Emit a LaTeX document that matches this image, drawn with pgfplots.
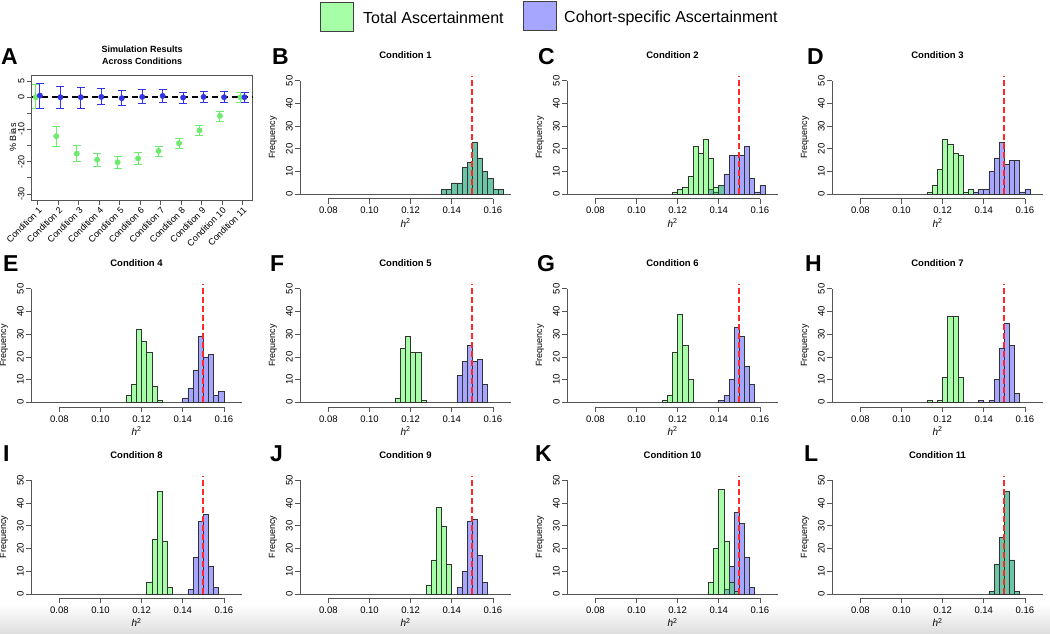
\documentclass[border=0pt]{standalone}
\usepackage{fontspec}
\setmainfont{Liberation Sans}
\usepackage{pgfplots}
\pgfplotsset{compat=1.18}

\definecolor{axgray}{RGB}{85,85,85}
\definecolor{ptgreen}{RGB}{110,235,110}
\definecolor{ptblue}{RGB}{50,50,230}
\definecolor{redline}{RGB}{255,40,40}

\pgfplotsset{
  histax/.style={
    scale only axis, width=211pt, height=122.6pt, anchor=south west,
    xmin=0.0662, xmax=0.1688, ymin=-2, ymax=52, clip=false,
    axis line style={draw=none},
    tick pos=left, tick align=outside, major tick length=5pt,
    tick style={axgray, line width=0.7pt},
    xtick={0.08,0.10,0.12,0.14,0.16},
    xticklabels={0.08,0.10,0.12,0.14,0.16},
    ytick={0,10,20,30,40,50},
    yticklabel style={rotate=90, anchor=south, inner sep=2pt},
    tick label style={font=\fontsize{9.5}{10}\selectfont},
    /pgf/number format/assume math mode=true,
    title style={at={(axis description cs:0.5,1.122)}, anchor=center,
      font=\bfseries\fontsize{9.5}{11}\selectfont},
    xlabel={\textit{h}\textsuperscript{2}},
    xlabel style={at={(axis description cs:0.5,-0.196)}, anchor=center,
      font=\fontsize{10}{11}\selectfont},
    ylabel={Frequency},
    ylabel style={at={(axis description cs:-0.128,0.5)}, anchor=center,
      font=\fontsize{9}{10}\selectfont},
  },
  cohort/.style={ybar interval, bar interval shift=0.5, bar interval width=1,
    fill=blue, fill opacity=0.35, draw=black!80, line width=0.6pt},
  total/.style={ybar interval, bar interval shift=0.5, bar interval width=1,
    fill=green, fill opacity=0.35, draw=black!80, line width=0.6pt},
}

% #1 left, #2 bottom (pt), #3 title, #4 total, #5 cohort-specific
\newcommand{\histpanel}[5]{%
\begin{axis}[histax, at={(#1pt,#2pt)}, title={#3}]
\draw[axgray, line width=0.7pt] (axis cs:0.0662,0) -- (axis cs:0.1688,0);
\addplot[cohort] coordinates {#5};
\addplot[total] coordinates {#4};
\draw[axgray, line width=0.7pt] (axis cs:0.08,-2) -- (axis cs:0.16,-2);
\draw[axgray, line width=0.7pt] (axis cs:0.0662,0) -- (axis cs:0.0662,50);
\draw[redline, line width=1.8pt, dash pattern=on 6pt off 3pt] (axis cs:0.15,0) -- (axis cs:0.15,52);
\end{axis}}

\begin{document}
\begin{tikzpicture}
\useasboundingbox (0pt,0pt) rectangle (1050pt,634pt);
\shade[top color=white, bottom color=black!13] (0pt,0pt) rectangle (1050pt,30pt);

% legend
\filldraw[fill=green, fill opacity=0.35, draw=black!75, line width=1pt] (320pt,602pt) rectangle (353pt,631pt);
\node[anchor=west, inner sep=0pt, font=\fontsize{16}{18}\selectfont] at (363pt,616pt) {Total Ascertainment};
\filldraw[fill=blue, fill opacity=0.35, draw=black!75, line width=1pt] (523pt,603pt) rectangle (556pt,632pt);
\node[anchor=west, inner sep=0pt, font=\fontsize{16}{18}\selectfont] at (564pt,616pt) {Cohort-specific Ascertainment};

% panel A
\begin{axis}[
  scale only axis, width=221pt, height=125pt, anchor=south west, at={(31.7pt,434pt)},
  xmin=0.7, xmax=11.5, ymin=-31.9, ymax=6.9, clip=false,
  axis line style={axgray, line width=0.7pt},
  tick pos=left, tick align=outside, major tick length=5pt,
  tick style={axgray, line width=0.7pt},
  xtick={1,2,3,4,5,6,7,8,9,10,11},
  xticklabels={Condition 1,Condition 2,Condition 3,Condition 4,Condition 5,Condition 6,Condition 7,Condition 8,Condition 9,Condition 10,Condition 11},
  xticklabel style={rotate=45, anchor=north east, inner sep=1pt},
  ytick={-30,-25,-20,-15,-10,-5,0,5},
  yticklabels={-30,,-20,,-10,,0,5},
  yticklabel style={rotate=90, anchor=south, inner sep=2pt},
  tick label style={font=\fontsize{9}{10}\selectfont},
  /pgf/number format/assume math mode=true,
  title={Simulation Results\\Across Conditions},
  title style={at={(axis description cs:0.5,1.112)}, anchor=center, align=center,
    font=\bfseries\fontsize{9}{12}\selectfont},
  ylabel={\% Bias},
  ylabel style={at={(axis description cs:-0.085,0.5)}, anchor=center,
    font=\fontsize{9}{10}\selectfont},
]
\addplot[only marks, mark=*, mark size=2.7pt, color=ptgreen,
  error bars/.cd, y dir=both, y explicit,
  error bar style={line width=1pt, ptgreen},
  error mark options={rotate=90, mark size=4pt, line width=1pt, ptgreen}]
coordinates {
  (0.9,0.0) += (0,4.1) -= (0,3.6)
  (1.9,-12.1) += (0,2.9) -= (0,3.1)
  (2.9,-17.5) += (0,2.6) -= (0,2.5)
  (3.9,-19.4) += (0,1.8) -= (0,2.1)
  (4.9,-20.2) += (0,1.8) -= (0,1.9)
  (5.9,-19.0) += (0,1.7) -= (0,1.8)
  (6.9,-16.7) += (0,1.5) -= (0,1.7)
  (7.9,-14.3) += (0,1.4) -= (0,1.7)
  (8.9,-10.3) += (0,1.5) -= (0,1.6)
  (9.9,-5.8) += (0,1.5) -= (0,1.6)
  (10.9,0.0) += (0,1.6) -= (0,1.5)
};
\addplot[only marks, mark=*, mark size=2.7pt, color=ptblue,
  error bars/.cd, y dir=both, y explicit,
  error bar style={line width=1pt, ptblue},
  error mark options={rotate=90, mark size=4pt, line width=1pt, ptblue}]
coordinates {
  (1.1,0.5) += (0,3.7) -= (0,4.0)
  (2.1,0.0) += (0,3.3) -= (0,3.6)
  (3.1,0.0) += (0,3.1) -= (0,3.4)
  (4.1,0.1) += (0,2.5) -= (0,2.5)
  (5.1,-0.3) += (0,2.4) -= (0,2.3)
  (6.1,0.1) += (0,2.2) -= (0,2.1)
  (7.1,0.4) += (0,1.9) -= (0,1.9)
  (8.1,-0.1) += (0,1.7) -= (0,1.7)
  (9.1,0.1) += (0,1.7) -= (0,1.7)
  (10.1,0.0) += (0,1.7) -= (0,1.6)
  (11.1,0.0) += (0,1.6) -= (0,1.5)
};
\draw[black, line width=1.6pt, dash pattern=on 6pt off 4pt] (axis cs:0.7,0) -- (axis cs:11.5,0);
\end{axis}

% row 1
\histpanel{300}{435.2}{Condition 1}
  {(0.135,2)(0.1375,2)(0.14,5)(0.1425,5)(0.145,12)(0.1475,14)(0.15,23)(0.1525,16)(0.155,10)(0.1575,7)(0.16,2)(0.1625,2)(0.165,0)}
  {(0.135,2)(0.1375,2)(0.14,5)(0.1425,5)(0.145,12)(0.1475,14)(0.15,23)(0.1525,16)(0.155,10)(0.1575,7)(0.16,2)(0.1625,2)(0.165,0)}
\histpanel{567}{435.2}{Condition 2}
  {(0.1175,1)(0.12,2)(0.1225,3)(0.125,8)(0.1275,21)(0.13,18)(0.1325,24)(0.135,16)(0.1375,3)(0.14,4)(0.1425,0)}
  {(0.135,2)(0.1375,1)(0.14,4)(0.1425,9)(0.145,17)(0.1475,17)(0.15,17)(0.1525,21)(0.155,7)(0.1575,1)(0.16,4)(0.1625,0)}
\histpanel{832}{435.2}{Condition 3}
  {(0.1125,1)(0.115,4)(0.1175,11)(0.12,24)(0.1225,22)(0.125,18)(0.1275,17)(0.13,1)(0.1325,2)(0.135,0)}
  {(0.135,1)(0.1375,2)(0.14,2)(0.1425,10)(0.145,16)(0.1475,23)(0.15,13)(0.1525,15)(0.155,15)(0.1575,1)(0.16,2)(0.1625,0)}

% row 2
\histpanel{31}{227.1}{Condition 4}
  {(0.1125,3)(0.115,8)(0.1175,32)(0.12,27)(0.1225,22)(0.125,7)(0.1275,1)(0.13,0)}
  {(0.14,2)(0.1425,6)(0.145,14)(0.1475,29)(0.15,20)(0.1525,21)(0.155,3)(0.1575,5)(0.16,0)}
\histpanel{300}{227.1}{Condition 5}
  {(0.1125,2)(0.115,24)(0.1175,29)(0.12,22)(0.1225,22)(0.125,1)(0.1275,0)}
  {(0.1425,12)(0.145,18)(0.1475,25)(0.15,18)(0.1525,19)(0.155,8)(0.1575,0)}
\histpanel{567}{227.1}{Condition 6}
  {(0.1125,1)(0.115,3)(0.1175,22)(0.12,39)(0.1225,25)(0.125,10)(0.1275,0)}
  {(0.14,1)(0.1425,3)(0.145,10)(0.1475,33)(0.15,29)(0.1525,16)(0.155,8)(0.1575,0)}
\histpanel{832}{227.1}{Condition 7}
  {(0.1125,1)(0.115,0)(0.1175,1)(0.12,11)(0.1225,38)(0.125,38)(0.1275,11)(0.13,0)}
  {(0.1375,1)(0.14,0)(0.1425,1)(0.145,10)(0.1475,24)(0.15,35)(0.1525,25)(0.155,4)(0.1575,0)}

% row 3
\histpanel{31}{35.5}{Condition 8}
  {(0.1225,5)(0.125,24)(0.1275,45)(0.13,23)(0.1325,3)(0.135,0)}
  {(0.1425,2)(0.145,16)(0.1475,32)(0.15,35)(0.1525,12)(0.155,3)(0.1575,0)}
\histpanel{300}{35.5}{Condition 9}
  {(0.1275,4)(0.13,15)(0.1325,38)(0.135,30)(0.1375,13)(0.14,0)}
  {(0.1425,3)(0.145,10)(0.1475,32)(0.15,33)(0.1525,17)(0.155,5)(0.1575,0)}
\histpanel{567}{35.5}{Condition 10}
  {(0.135,5)(0.1375,20)(0.14,46)(0.1425,23)(0.145,5)(0.1475,1)(0.15,0)}
  {(0.1425,2)(0.145,12)(0.1475,36)(0.15,31)(0.1525,16)(0.155,3)(0.1575,0)}
\histpanel{832}{35.5}{Condition 11}
  {(0.1425,1)(0.145,13)(0.1475,25)(0.15,45)(0.1525,15)(0.155,1)(0.1575,0)}
  {(0.1425,1)(0.145,13)(0.1475,25)(0.15,45)(0.1525,15)(0.155,1)(0.1575,0)}

% panel letters
\begin{scope}[every node/.style={anchor=west, inner sep=0pt, font=\bfseries\fontsize{23}{26}\selectfont}]
\node at (1pt,577pt) {A};
\node at (272pt,577pt) {B};
\node at (538pt,577pt) {C};
\node at (807pt,577pt) {D};
\node at (3pt,370.5pt) {E};
\node at (270pt,370.5pt) {F};
\node at (537pt,370.5pt) {G};
\node at (805pt,370.5pt) {H};
\node at (3pt,180pt) {I};
\node at (270pt,180pt) {J};
\node at (535pt,180pt) {K};
\node at (804pt,180pt) {L};
\end{scope}
\end{tikzpicture}
\end{document}
